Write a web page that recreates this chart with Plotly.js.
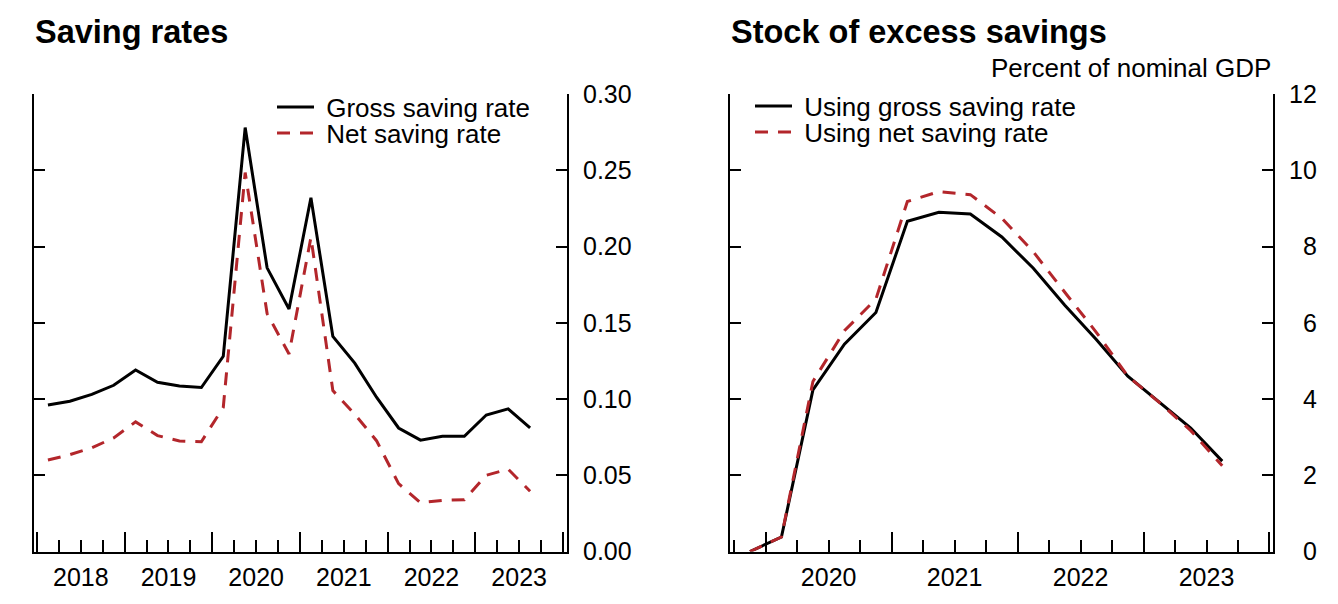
<!DOCTYPE html>
<html>
<head>
<meta charset="utf-8">
<script src="https://cdn.plot.ly/plotly-3.0.1.min.js"></script>
<style>html,body{margin:0;padding:0;background:#fff;}#chart{width:1338px;height:604px;}</style>
</head>
<body>
<div id="chart"></div>
<script>
// ---------- data ----------
const quartersLeft = ["2018Q1","2018Q2","2018Q3","2018Q4","2019Q1","2019Q2","2019Q3","2019Q4",
  "2020Q1","2020Q2","2020Q3","2020Q4","2021Q1","2021Q2","2021Q3","2021Q4",
  "2022Q1","2022Q2","2022Q3","2022Q4","2023Q1","2023Q2","2023Q3"];
const grossRate = [0.096,0.0985,0.103,0.109,0.119,0.111,0.1085,0.1075,0.128,0.278,0.186,0.159,
  0.232,0.141,0.1235,0.101,0.081,0.073,0.0755,0.0755,0.0895,0.0935,0.081];
const netRate = [0.060,0.0635,0.068,0.0745,0.085,0.076,0.0725,0.072,0.0945,0.2485,0.156,0.1295,
  0.206,0.1055,0.090,0.0725,0.0445,0.032,0.0335,0.034,0.050,0.054,0.0395];

const quartersRight = ["2019Q4","2020Q1","2020Q2","2020Q3","2020Q4","2021Q1","2021Q2","2021Q3",
  "2021Q4","2022Q1","2022Q2","2022Q3","2022Q4","2023Q1","2023Q2","2023Q3"];
const stockGross = [0,0.38,4.24,5.44,6.27,8.66,8.90,8.85,8.25,7.43,6.46,5.56,4.60,3.93,3.24,2.37];
const stockNet   = [0,0.38,4.46,5.79,6.62,9.18,9.44,9.36,8.74,7.86,6.80,5.75,4.60,3.91,3.17,2.25];

const yearsLeft = ["2018","2019","2020","2021","2022","2023"];
const yearsRight = ["2020","2021","2022","2023"];
const leftTicks = [0,0.05,0.10,0.15,0.20,0.25,0.30];
const rightTicks = [0,2,4,6,8,10,12];

const titleLeft = "Saving rates";
const titleRight = "Stock of excess savings";
const unitRight = "Percent of nominal GDP";
const namesLeft = ["Gross saving rate","Net saving rate"];
const namesRight = ["Using gross saving rate","Using net saving rate"];

// ---------- helpers ----------
const qPos = q => parseInt(q.slice(0,4),10) + (parseInt(q.slice(5),10) - 0.5) / 4;
const W = 1338, H = 604;
const px = v => v / W;
const py = v => (H - v) / H;

const FONT = "Liberation Sans, Arial, sans-serif";
const BLACK = "#000000";
const RED = "#B3262B";
const DASH = "13px,10px";
const NB = "\u00a0";

const xL = quartersLeft.map(qPos);
const xR = quartersRight.map(qPos);

const traces = [
  {x:xL, y:grossRate, xaxis:"x", yaxis:"y", mode:"lines", name:NB+namesLeft[0], legend:"legend",
   line:{color:BLACK, width:3}},
  {x:xL, y:netRate, xaxis:"x", yaxis:"y", mode:"lines", name:NB+namesLeft[1], legend:"legend2",
   line:{color:RED, width:3, dash:DASH}},
  {x:xR, y:stockGross, xaxis:"x2", yaxis:"y2", mode:"lines", name:NB+namesRight[0], legend:"legend3",
   line:{color:BLACK, width:3}},
  {x:xR, y:stockNet, xaxis:"x2", yaxis:"y2", mode:"lines", name:NB+namesRight[1], legend:"legend4",
   line:{color:RED, width:3, dash:DASH}}
];

const rangeL = [2017.966, 2024.046];
const rangeR = [2019.7126, 2024.028];
const yDom = [py(551.5), py(94)];

// quarter-boundary ticks (short, carry year labels at mid-year) and year-boundary ticks (long)
function xAxisDef(domain, range, labels, anchor) {
  const tv = [], tt = [], yr = [];
  for (let k = Math.ceil(range[0]*4); k <= Math.floor(range[1]*4); k++) {
    const v = k / 4;
    if (k % 4 === 0) { yr.push(v); continue; }
    tv.push(v);
    const lab = (k % 4 === 2) ? String(Math.floor(v)) : "";
    tt.push(labels.indexOf(lab) >= 0 ? lab : "");
  }
  return {domain:domain, range:range, anchor:anchor, showgrid:false, zeroline:false,
    showline:true, linecolor:BLACK, linewidth:2,
    tickmode:"array", tickvals:tv, ticktext:tt, ticks:"inside", ticklen:12, tickwidth:2, tickcolor:BLACK,
    tickfont:{family:FONT, size:25, color:BLACK}, ticklabelstandoff:2,
    minor:{tickmode:"array", tickvals:yr, ticks:"inside", ticklen:20, tickwidth:2, tickcolor:BLACK, showgrid:false},
    fixedrange:true};
}

const maxLen = Math.max(...rightTicks.map(v => String(v).length));
const rightText = rightTicks.map(v => { let s = String(v); return NB.repeat(2*(maxLen - s.length)) + s; });

function legendAt(x, y) {
  return {x:px(x), y:py(y), xanchor:"left", yanchor:"middle", bgcolor:"rgba(0,0,0,0)", borderwidth:0,
    font:{family:FONT, size:26, color:BLACK}, itemwidth:37, traceorder:"normal"};
}

const layout = {
  width:W, height:H, margin:{l:0, r:0, t:0, b:0},
  paper_bgcolor:"#ffffff", plot_bgcolor:"#ffffff",
  showlegend:true,
  xaxis: xAxisDef([px(34), px(567)], rangeL, yearsLeft, "y"),
  xaxis2: xAxisDef([px(729.5), px(1273)], rangeR, yearsRight, "y2"),
  yaxis: {domain:yDom, range:[0,0.30], anchor:"x", side:"right", showgrid:false, zeroline:false,
    showline:true, linecolor:BLACK, linewidth:2, mirror:"ticks",
    tickmode:"array", tickvals:leftTicks, tickformat:".2f", ticks:"inside", ticklen:11, tickwidth:2, tickcolor:BLACK,
    tickfont:{family:FONT, size:25, color:BLACK}, ticklabelstandoff:9, fixedrange:true},
  yaxis2: {domain:yDom, range:[0,12], anchor:"x2", side:"right", showgrid:false, zeroline:false,
    showline:true, linecolor:BLACK, linewidth:2, mirror:"ticks",
    tickmode:"array", tickvals:rightTicks, ticktext:rightText, ticks:"inside", ticklen:11, tickwidth:2, tickcolor:BLACK,
    tickfont:{family:FONT, size:25, color:BLACK}, ticklabelstandoff:9, fixedrange:true},
  legend: legendAt(272, 107),
  legend2: legendAt(272, 133),
  legend3: legendAt(750, 106),
  legend4: legendAt(750, 132),
  annotations:[
    {xref:"paper", yref:"paper", x:px(33), y:py(32), xanchor:"left", yanchor:"middle", showarrow:false,
     text:titleLeft, font:{family:FONT, size:32.5, color:BLACK, weight:"bold"}},
    {xref:"paper", yref:"paper", x:px(729), y:py(32), xanchor:"left", yanchor:"middle", showarrow:false,
     text:titleRight, font:{family:FONT, size:32.5, color:BLACK, weight:"bold"}},
    {xref:"x2 domain", yref:"paper", x:1, y:py(68), xanchor:"right", yanchor:"middle", showarrow:false,
     text:unitRight, font:{family:FONT, size:26, color:BLACK}}
  ]
};

Plotly.newPlot("chart", traces, layout, {displayModeBar:false, staticPlot:true});
</script>
</body>
</html>
